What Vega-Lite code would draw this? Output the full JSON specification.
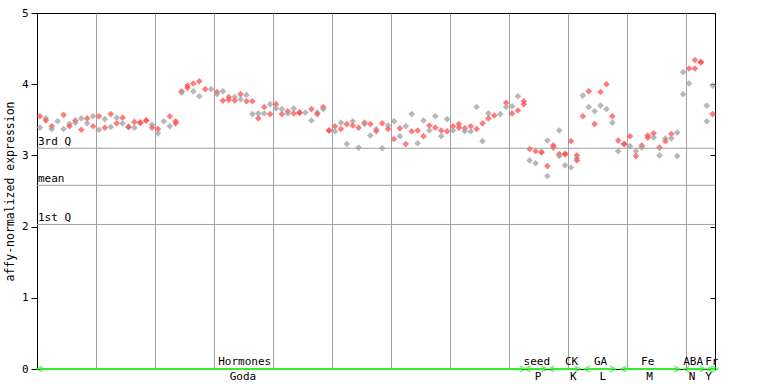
{
"$schema":"https://vega.github.io/schema/vega-lite/v6.json",
"width":678,"height":356,
"autosize":{"type":"none"},
"padding":{"left":37,"top":13,"right":53,"bottom":15},
"background":"white",
"config":{"view":{"stroke":"black","strokeWidth":1},"font":"DejaVu Sans Mono",
"axis":{"labelFont":"DejaVu Sans Mono","titleFont":"DejaVu Sans Mono","labelColor":"black","titleColor":"black","domainColor":"black","tickColor":"black","labelFontSize":11,"titleFontWeight":"normal"}},
"datasets":{
"pts":[
{"s":0,"v":3.55,"c":"r"},{"s":0,"v":3.39,"c":"g"},
{"s":1,"v":3.52,"c":"g"},{"s":1,"v":3.49,"c":"r"},
{"s":2,"v":3.41,"c":"r"},{"s":2,"v":3.37,"c":"g"},
{"s":3,"v":3.48,"c":"g"},
{"s":4,"v":3.57,"c":"r"},{"s":4,"v":3.37,"c":"g"},
{"s":5,"v":3.44,"c":"g"},{"s":5,"v":3.41,"c":"r"},
{"s":6,"v":3.49,"c":"r"},{"s":6,"v":3.46,"c":"g"},
{"s":7,"v":3.52,"c":"g"},{"s":7,"v":3.36,"c":"r"},
{"s":8,"v":3.52,"c":"r"},{"s":8,"v":3.45,"c":"g"},
{"s":9,"v":3.55,"c":"g"},{"s":9,"v":3.41,"c":"r"},
{"s":10,"v":3.55,"c":"r"},{"s":10,"v":3.36,"c":"g"},
{"s":11,"v":3.51,"c":"g"},{"s":11,"v":3.39,"c":"r"},
{"s":12,"v":3.58,"c":"r"},{"s":12,"v":3.40,"c":"g"},
{"s":13,"v":3.53,"c":"g"},{"s":13,"v":3.45,"c":"r"},
{"s":14,"v":3.53,"c":"r"},{"s":14,"v":3.45,"c":"g"},
{"s":15,"v":3.40,"c":"g"},{"s":15,"v":3.40,"c":"r"},
{"s":16,"v":3.47,"c":"r"},{"s":16,"v":3.39,"c":"g"},
{"s":17,"v":3.46,"c":"r"},{"s":17,"v":3.46,"c":"r"},
{"s":18,"v":3.49,"c":"r"},{"s":18,"v":3.49,"c":"r"},
{"s":19,"v":3.43,"c":"g"},{"s":19,"v":3.39,"c":"r"},
{"s":20,"v":3.37,"c":"r"},{"s":20,"v":3.31,"c":"g"},
{"s":21,"v":3.48,"c":"g"},
{"s":22,"v":3.55,"c":"r"},{"s":22,"v":3.41,"c":"g"},
{"s":23,"v":3.48,"c":"r"},{"s":23,"v":3.45,"c":"r"},
{"s":24,"v":3.90,"c":"r"},{"s":24,"v":3.88,"c":"g"},
{"s":25,"v":3.98,"c":"r"},{"s":25,"v":3.95,"c":"r"},
{"s":26,"v":4.01,"c":"r"},{"s":26,"v":3.90,"c":"g"},
{"s":27,"v":4.04,"c":"r"},{"s":27,"v":3.83,"c":"g"},
{"s":28,"v":3.93,"c":"r"},
{"s":29,"v":3.93,"c":"g"},
{"s":30,"v":3.89,"c":"r"},{"s":30,"v":3.86,"c":"g"},
{"s":31,"v":3.90,"c":"g"},{"s":31,"v":3.77,"c":"r"},
{"s":32,"v":3.82,"c":"r"},{"s":32,"v":3.78,"c":"r"},
{"s":33,"v":3.82,"c":"g"},{"s":33,"v":3.77,"c":"r"},
{"s":34,"v":3.86,"c":"r"},{"s":34,"v":3.79,"c":"g"},
{"s":35,"v":3.85,"c":"g"},{"s":35,"v":3.76,"c":"r"},
{"s":36,"v":3.76,"c":"r"},{"s":36,"v":3.58,"c":"g"},
{"s":37,"v":3.59,"c":"g"},{"s":37,"v":3.52,"c":"r"},
{"s":38,"v":3.68,"c":"r"},{"s":38,"v":3.59,"c":"g"},
{"s":39,"v":3.72,"c":"g"},{"s":39,"v":3.58,"c":"r"},
{"s":40,"v":3.72,"c":"r"},{"s":40,"v":3.66,"c":"g"},
{"s":41,"v":3.65,"c":"g"},{"s":41,"v":3.58,"c":"r"},
{"s":42,"v":3.62,"c":"r"},{"s":42,"v":3.59,"c":"g"},
{"s":43,"v":3.66,"c":"g"},{"s":43,"v":3.59,"c":"r"},
{"s":44,"v":3.60,"c":"r"},{"s":44,"v":3.60,"c":"r"},
{"s":45,"v":3.60,"c":"g"},
{"s":46,"v":3.65,"c":"r"},{"s":46,"v":3.49,"c":"g"},
{"s":47,"v":3.60,"c":"g"},{"s":47,"v":3.58,"c":"r"},
{"s":48,"v":3.68,"c":"r"},{"s":48,"v":3.65,"c":"g"},
{"s":49,"v":3.35,"c":"r"},{"s":49,"v":3.35,"c":"r"},
{"s":50,"v":3.41,"c":"r"},{"s":50,"v":3.34,"c":"g"},
{"s":51,"v":3.46,"c":"g"},{"s":51,"v":3.37,"c":"r"},
{"s":52,"v":3.44,"c":"r"},{"s":52,"v":3.16,"c":"g"},
{"s":53,"v":3.48,"c":"g"},{"s":53,"v":3.42,"c":"r"},
{"s":54,"v":3.39,"c":"r"},{"s":54,"v":3.11,"c":"g"},
{"s":55,"v":3.46,"c":"r"},{"s":55,"v":3.44,"c":"g"},
{"s":56,"v":3.44,"c":"r"},{"s":56,"v":3.28,"c":"g"},
{"s":57,"v":3.37,"c":"g"},{"s":57,"v":3.34,"c":"r"},
{"s":58,"v":3.45,"c":"r"},{"s":58,"v":3.10,"c":"g"},
{"s":59,"v":3.42,"c":"g"},{"s":59,"v":3.37,"c":"r"},
{"s":60,"v":3.48,"c":"g"},{"s":60,"v":3.23,"c":"r"},
{"s":61,"v":3.38,"c":"r"},{"s":61,"v":3.27,"c":"g"},
{"s":62,"v":3.41,"c":"g"},{"s":62,"v":3.16,"c":"r"},
{"s":63,"v":3.58,"c":"g"},{"s":63,"v":3.34,"c":"r"},
{"s":64,"v":3.35,"c":"r"},{"s":64,"v":3.17,"c":"g"},
{"s":65,"v":3.49,"c":"g"},{"s":65,"v":3.27,"c":"r"},
{"s":66,"v":3.42,"c":"r"},{"s":66,"v":3.35,"c":"g"},
{"s":67,"v":3.55,"c":"g"},{"s":67,"v":3.39,"c":"r"},
{"s":68,"v":3.35,"c":"r"},{"s":68,"v":3.27,"c":"g"},
{"s":69,"v":3.51,"c":"g"},{"s":69,"v":3.34,"c":"r"},
{"s":70,"v":3.41,"c":"r"},{"s":70,"v":3.35,"c":"g"},
{"s":71,"v":3.44,"c":"r"},{"s":71,"v":3.39,"c":"r"},
{"s":72,"v":3.38,"c":"r"},{"s":72,"v":3.34,"c":"g"},
{"s":73,"v":3.41,"c":"r"},{"s":73,"v":3.34,"c":"g"},
{"s":74,"v":3.68,"c":"g"},{"s":74,"v":3.37,"c":"r"},
{"s":75,"v":3.45,"c":"r"},{"s":75,"v":3.20,"c":"g"},
{"s":76,"v":3.59,"c":"g"},{"s":76,"v":3.52,"c":"r"},
{"s":77,"v":3.56,"c":"r"},
{"s":78,"v":3.58,"c":"g"},
{"s":79,"v":3.74,"c":"r"},{"s":79,"v":3.68,"c":"g"},
{"s":80,"v":3.69,"c":"g"},{"s":80,"v":3.59,"c":"r"},
{"s":81,"v":3.83,"c":"g"},{"s":81,"v":3.63,"c":"r"},
{"s":82,"v":3.76,"c":"r"},{"s":82,"v":3.72,"c":"r"},
{"s":83,"v":3.09,"c":"r"},{"s":83,"v":2.93,"c":"g"},
{"s":84,"v":3.06,"c":"r"},{"s":84,"v":2.89,"c":"g"},
{"s":85,"v":3.05,"c":"g"},{"s":85,"v":3.04,"c":"r"},
{"s":86,"v":3.21,"c":"g"},{"s":86,"v":2.85,"c":"r"},{"s":86,"v":2.71,"c":"g"},
{"s":87,"v":3.14,"c":"r"},{"s":87,"v":3.11,"c":"r"},
{"s":88,"v":3.35,"c":"g"},{"s":88,"v":3.02,"c":"r"},{"s":88,"v":2.99,"c":"g"},
{"s":89,"v":3.02,"c":"r"},{"s":89,"v":3.02,"c":"r"},{"s":89,"v":2.86,"c":"g"},
{"s":90,"v":3.20,"c":"r"},{"s":90,"v":2.83,"c":"g"},
{"s":91,"v":3.00,"c":"r"},{"s":91,"v":2.96,"c":"g"},{"s":91,"v":2.93,"c":"r"},
{"s":92,"v":3.84,"c":"g"},{"s":92,"v":3.55,"c":"r"},
{"s":93,"v":3.90,"c":"r"},{"s":93,"v":3.68,"c":"g"},
{"s":94,"v":3.62,"c":"g"},{"s":94,"v":3.44,"c":"r"},
{"s":95,"v":3.89,"c":"r"},{"s":95,"v":3.70,"c":"g"},
{"s":96,"v":4.00,"c":"r"},{"s":96,"v":3.65,"c":"g"},
{"s":97,"v":3.55,"c":"r"},{"s":97,"v":3.46,"c":"g"},
{"s":98,"v":3.21,"c":"r"},{"s":98,"v":3.06,"c":"g"},
{"s":99,"v":3.16,"c":"r"},{"s":99,"v":3.16,"c":"r"},
{"s":100,"v":3.27,"c":"r"},{"s":100,"v":3.13,"c":"g"},
{"s":101,"v":3.06,"c":"g"},{"s":101,"v":2.99,"c":"r"},
{"s":102,"v":3.14,"c":"r"},{"s":102,"v":3.11,"c":"g"},
{"s":103,"v":3.28,"c":"r"},{"s":103,"v":3.25,"c":"r"},
{"s":104,"v":3.31,"c":"r"},{"s":104,"v":3.25,"c":"g"},
{"s":105,"v":3.11,"c":"r"},{"s":105,"v":3.00,"c":"g"},
{"s":106,"v":3.24,"c":"g"},{"s":106,"v":3.20,"c":"r"},
{"s":107,"v":3.30,"c":"r"},{"s":107,"v":3.24,"c":"g"},
{"s":108,"v":3.32,"c":"g"},{"s":108,"v":2.99,"c":"g"},
{"s":109,"v":4.17,"c":"g"},{"s":109,"v":3.86,"c":"g"},
{"s":110,"v":4.22,"c":"r"},{"s":110,"v":4.01,"c":"g"},
{"s":111,"v":4.34,"c":"r"},{"s":111,"v":4.22,"c":"r"},
{"s":112,"v":4.31,"c":"r"},{"s":112,"v":4.31,"c":"r"},
{"s":113,"v":3.70,"c":"g"},{"s":113,"v":3.48,"c":"g"},
{"s":114,"v":3.98,"c":"g"},{"s":114,"v":3.58,"c":"r"}
],
"q":[{"q":"3rd Q","v":3.10,"s":-0.5},{"q":"mean","v":2.58,"s":-0.5},{"q":"1st Q","v":2.03,"s":-0.5}],
"groups":[
{"top":"Hormones","tp":34.7,"bot":"Goda","bp":34.4,"a":-0.05,"b":81.8,"y":0},
{"top":"seed","tp":84.2,"bot":"P","bp":84.4,"a":82.7,"b":85.5,"y":0},
{"top":"CK","tp":90.1,"bot":"K","bp":90.4,"a":86.7,"b":91.1,"y":0},
{"top":"GA","tp":95.0,"bot":"L","bp":95.4,"a":92.7,"b":97.1,"y":0},
{"top":"Fe","tp":103.0,"bot":"M","bp":103.3,"a":98.9,"b":108.0,"y":0},
{"top":"ABA","tp":110.7,"bot":"N","bp":110.5,"a":109.6,"b":112.3,"y":0},
{"top":"Fr","tp":113.85,"bot":"Y","bp":113.3,"a":113.5,"b":114.4,"y":0}
]
},
"resolve":{"axis":{"y":"independent"}},
"layer":[
{"data":{"name":"pts"},"mark":{"type":"point","shape":"diamond","filled":true,"size":44,"opacity":0.75},
 "encoding":{"x":{"field":"s","type":"quantitative","scale":{"domain":[-0.5,114.4],"nice":false,"zero":false},
   "axis":{"orient":"bottom","values":[9.5,19.5,29.5,39.5,49.5,59.5,69.5,79.5,89.5,99.5,109.5],"grid":true,"gridColor":"#a0a0a0","gridOpacity":1,"gridWidth":1,"ticks":false,"labels":false,"title":null,"domainColor":"black"}},
   "y":{"field":"v","type":"quantitative","scale":{"domain":[0,5],"nice":false,"zero":true},
   "axis":{"orient":"left","values":[0,1,2,3,4,5],"grid":false,"tickSize":6,"labelPadding":3,"title":"affy-normalized expression","titleFontSize":11.5,"titlePadding":6}},
   "color":{"field":"c","type":"nominal","scale":{"domain":["r","g"],"range":["#ff5050","#a0a0a0"]},"legend":null}}},
{"data":{"name":"q"},"mark":{"type":"rule","color":"#a0a0a0","strokeWidth":1},
 "encoding":{"y":{"field":"v","type":"quantitative",
   "axis":{"orient":"right","values":[0,1,2,3,4,5],"labels":false,"tickSize":-5,"domain":true,"title":null,"grid":false}}}},
{"data":{"name":"q"},"mark":{"type":"text","align":"left","baseline":"alphabetic","dy":-3,"dx":1,"fontSize":11,"font":"DejaVu Sans Mono","color":"black"},
 "encoding":{"x":{"field":"s","type":"quantitative"},
   "y":{"field":"v","type":"quantitative","axis":null},"text":{"field":"q"}}},
{"data":{"name":"groups"},"mark":{"type":"rule","color":"#33ee33","strokeWidth":2},
 "encoding":{"x":{"field":"a","type":"quantitative"},"x2":{"field":"b"},"y":{"field":"y","type":"quantitative","axis":null}}},
{"data":{"name":"groups"},"mark":{"type":"point","shape":"M1,-1L-1,0L1,1","filled":false,"size":30,"color":"#33ee33","strokeWidth":1.5},
 "encoding":{"x":{"field":"a","type":"quantitative"},"y":{"field":"y","type":"quantitative","axis":null}}},
{"data":{"name":"groups"},"mark":{"type":"point","shape":"M-1,-1L1,0L-1,1","filled":false,"size":30,"color":"#33ee33","strokeWidth":1.5},
 "encoding":{"x":{"field":"b","type":"quantitative"},"y":{"field":"y","type":"quantitative","axis":null}}},
{"data":{"name":"groups"},"mark":{"type":"text","baseline":"bottom","dy":-2,"fontSize":11,"font":"DejaVu Sans Mono","color":"black"},
 "encoding":{"x":{"field":"tp","type":"quantitative"},"y":{"field":"y","type":"quantitative","axis":null},"text":{"field":"top"}}},
{"data":{"name":"groups"},"mark":{"type":"text","baseline":"top","dy":2,"fontSize":11,"font":"DejaVu Sans Mono","color":"black"},
 "encoding":{"x":{"field":"bp","type":"quantitative"},"y":{"field":"y","type":"quantitative","axis":null},"text":{"field":"bot"}}}
]
}
